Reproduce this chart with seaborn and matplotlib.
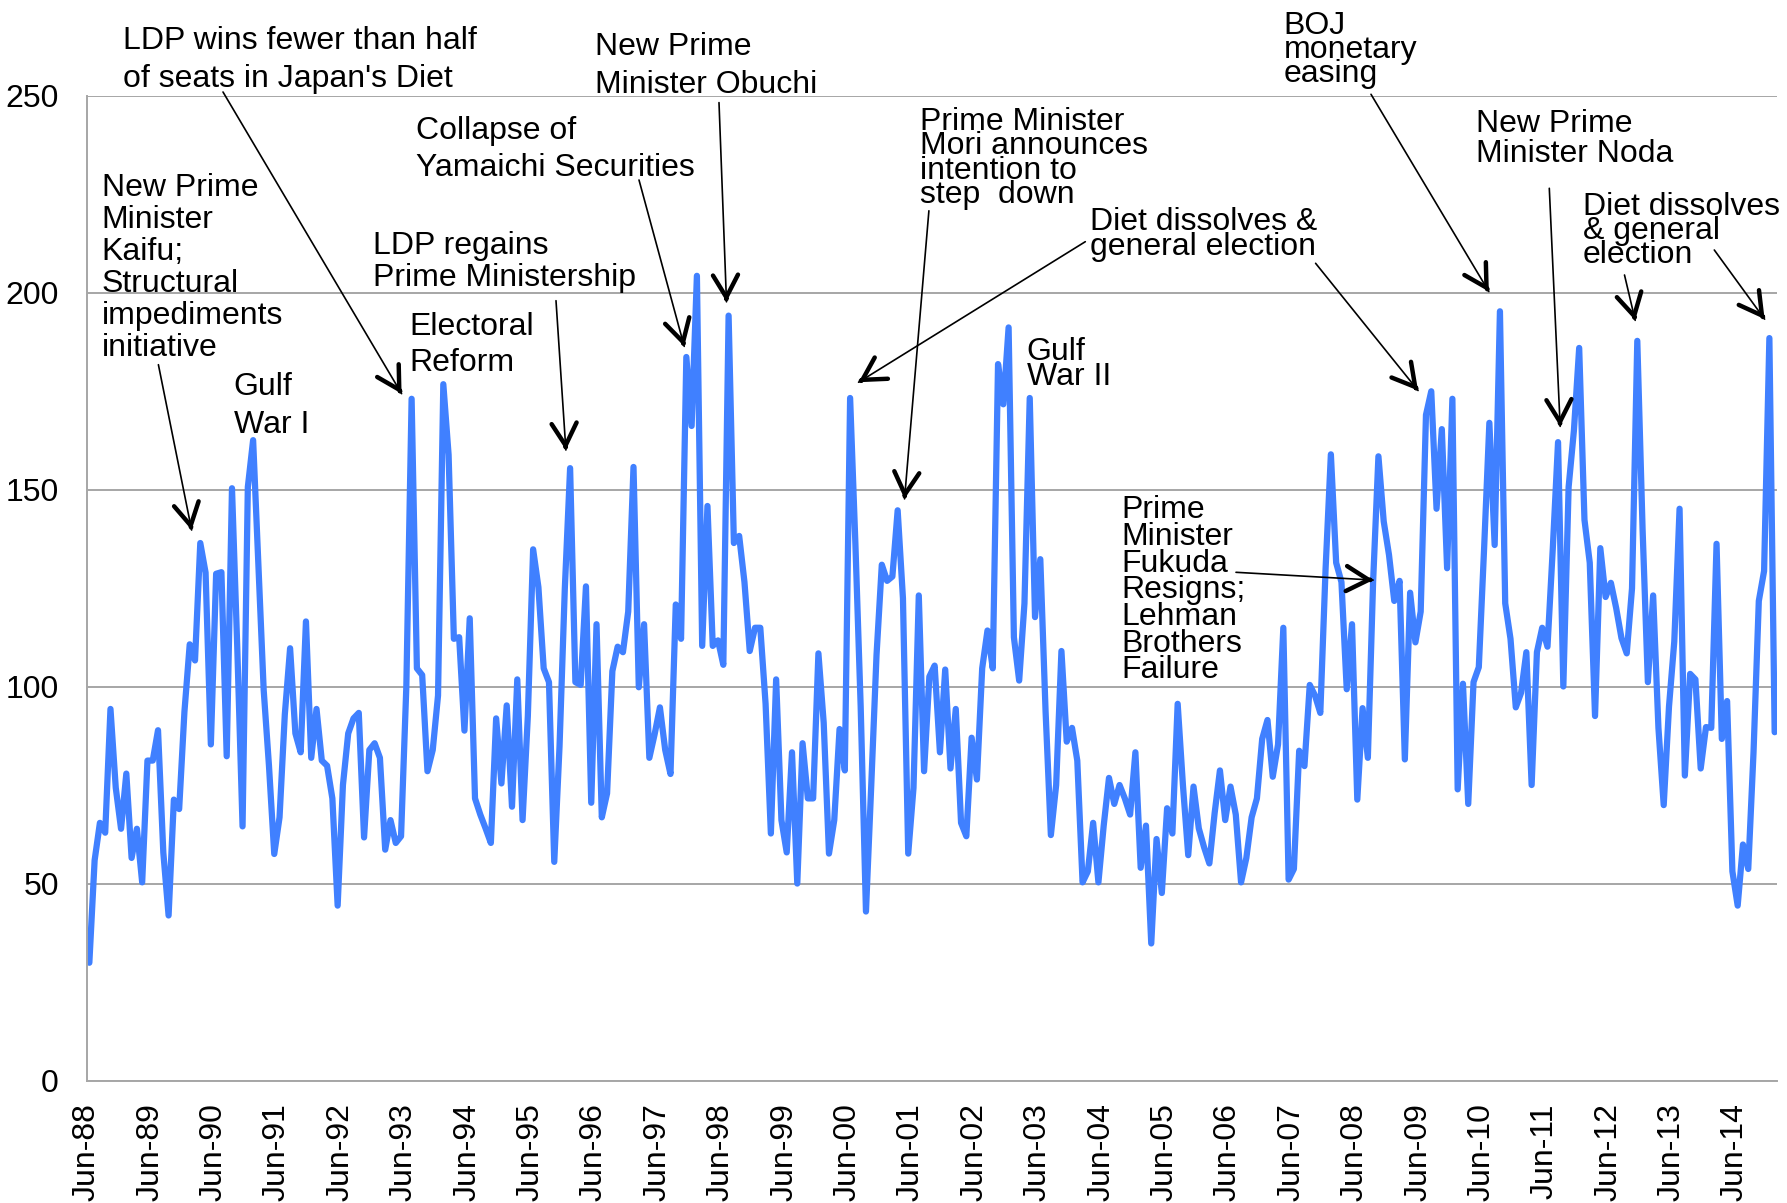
import numpy as np
import pandas as pd
import seaborn as sns
import matplotlib.pyplot as plt

# monthly index values, Jun-88 onwards
vals_jun88_may93 = [30, 56, 65.5, 63, 94.4, 74.4, 64, 78, 56.6, 64, 50.4, 81.3,
                    81.3, 89, 58, 42, 71.4, 69, 93.7, 110.8, 106.7, 136.5, 129, 85.4,
                    128.7, 129.1, 82.4, 150.4, 110, 64.6, 150.7, 162.6, 130.8, 99.2, 80, 57.6,
                    66.9, 93, 109.8, 88.2, 83.4, 116.6, 82, 94.4, 81.3, 80, 71.7, 44.5,
                    75.1, 88.2, 92, 93.4, 61.8, 84, 85.7, 82, 58.7, 66.2, 60.4, 62.1]
vals_jun93_may98 = [100, 173.1, 104.7, 103, 78.6, 84, 97.8, 176.8, 158.9, 112.2, 112.6, 88.9,
                    117.4, 71.7, 67.6, 64.1, 60.4, 92, 75.5, 95.3, 69.6, 101.9, 66.2, 92.6,
                    134.9, 125.3, 104.7, 101.2, 55.6, 85, 125, 155.5, 101.2, 100.5, 125.5, 70.6,
                    115.9, 66.9, 73, 104, 110.2, 108.8, 119.1, 155.8, 99.9, 115.9, 82, 88,
                    94.8, 84, 77.9, 120.9, 112.2, 183.7, 166.2, 204.3, 110.4, 145.9, 110.4, 111.8]
vals_jun98_may03 = [105.6, 194.2, 136.5, 138.3, 126.6, 109.1, 115, 115, 95.7, 62.8, 101.9, 66.2,
                    58, 83.4, 50.1, 85.7, 71.7, 71.7, 108.5, 90.9, 57.7, 66.2, 89.3, 78.8,
                    173.3, 136.3, 95, 43, 75, 108.1, 131, 126.9, 128, 144.8, 122.5, 57.7,
                    74.4, 123.2, 78.6, 102.6, 105.4, 83.4, 104.4, 79.3, 94.4, 65.5, 62.1, 87.1,
                    76.5, 104.7, 114.3, 104.7, 181.9, 171.7, 191.2, 112.6, 101.6, 121.2, 173.3, 117.7]
vals_jun03_may08 = [132.4, 93.7, 62.4, 75.1, 109.1, 86.1, 89.6, 81.3, 50.4, 53.2, 65.5, 50.4,
                    64.8, 76.9, 70.3, 75.1, 71.7, 67.6, 83.4, 54.1, 64.8, 34.9, 61.4, 47.7,
                    69.2, 62.8, 95.7, 75, 57.3, 74.7, 64.1, 59.3, 55.2, 68, 78.8, 66.2,
                    74.7, 67.6, 50.4, 56.6, 66.9, 71.7, 86.8, 91.6, 77.2, 85.4, 115, 51.1,
                    53.8, 83.8, 79.9, 100.5, 97.8, 93.4, 130, 159, 131.5, 126.6, 99.4, 115.9]
vals_jun08_jan15 = [71.4, 94.6, 82, 126.9, 158.5, 142, 133.5, 121.8, 126.9, 81.6, 123.9, 111.3,
                    119.1, 169, 175, 145.2, 165.4, 130.1, 173.1, 74, 100.8, 70.3, 101.2, 105,
                    135, 167, 136, 195.3, 121.2, 112.2, 94.8, 98.5, 108.8, 75.1, 108.8, 115,
                    110.2, 135, 162.1, 100.1, 150.7, 165, 186, 142.4, 131.5, 92.6, 135.2, 122.8,
                    126.4, 120, 112.4, 108.5, 125, 187.8, 140, 101.2, 123.2, 89.6, 70, 95,
                    111.5, 145.2, 77.5, 103.3, 101.9, 79.3, 89.8, 89.6, 136.3, 86.8, 96.4, 53.2,
                    44.5, 60, 53.8, 83.4, 121.8, 129.4, 188.5, 88.5]

tick_labels = ['Jun-88', 'Jun-89', 'Jun-90', 'Jun-91', 'Jun-92', 'Jun-93', 'Jun-94',
               'Jun-95', 'Jun-96', 'Jun-97', 'Jun-98', 'Jun-99', 'Jun-00', 'Jun-01',
               'Jun-02', 'Jun-03', 'Jun-04', 'Jun-05', 'Jun-06', 'Jun-07', 'Jun-08',
               'Jun-09', 'Jun-10', 'Jun-11', 'Jun-12', 'Jun-13', 'Jun-14']
y_ticks = [0, 50, 100, 150, 200, 250]

values = np.concatenate([vals_jun88_may93, vals_jun93_may98, vals_jun98_may03,
                         vals_jun03_may08, vals_jun08_jan15])
df = pd.DataFrame({'month': np.arange(len(values)) + 0.5, 'value': values})

W, H = 1787, 1203
GRAY = '#A6A6A6'
FS = 23

sns.set_style('white')
plt.rcParams['font.family'] = ['Liberation Sans', 'DejaVu Sans']

fig = plt.figure(figsize=(W / 100, H / 100), dpi=100)
ax = fig.add_axes([86.7 / W, 122 / H, 1690.6 / W, 985.3 / H])
sns.lineplot(data=df, x='month', y='value', ax=ax, color='#4080FF', lw=4.5,
             estimator=None, solid_joinstyle='round', solid_capstyle='round')

ax.set_xlim(0, 320)
ax.set_ylim(0, 250)
ax.set_yticks(y_ticks)
ax.set_xticks(np.arange(len(tick_labels)) * 12)
ax.set_xticklabels(tick_labels, rotation=90)
ax.yaxis.grid(True, color=GRAY, lw=1.4)
ax.set_axisbelow(True)
ax.set_xlabel('')
ax.set_ylabel('')
for s in ['top', 'right']:
    ax.spines[s].set_visible(False)
for s in ['left', 'bottom']:
    ax.spines[s].set_color(GRAY)
    ax.spines[s].set_linewidth(1.4)
ax.tick_params(axis='both', labelsize=FS, length=7, width=1.4, color=GRAY,
               direction='out', labelcolor='black')
ax.tick_params(axis='y', pad=13)
ax.tick_params(axis='x', pad=9)


def put_text(lines, left, center0, pitch):
    for k, line in enumerate(lines):
        base = center0 + k * pitch + 0.358 * FS * 100 / 72
        fig.text(left / W, 1 - base / H, line, fontsize=FS, va='baseline', ha='left',
                 color='black')


def put_arrow(tail, tip):
    tail_px = np.array([tail[0], H - tail[1]])
    ax.annotate('', xy=tip, xycoords='data', xytext=tail_px, textcoords='figure pixels',
                arrowprops=dict(arrowstyle='-', color='black', lw=1.2, shrinkA=0, shrinkB=0))
    tip_px = ax.transData.transform(tip)
    d = tip_px - tail_px
    d = d / np.hypot(*d)
    ax.annotate('', xy=tip, xycoords='data', xytext=tip_px - 3 * d, textcoords='figure pixels',
                arrowprops=dict(arrowstyle='->,head_length=0.8,head_width=0.45', color='black',
                                lw=3.2, mutation_scale=20, shrinkA=0, shrinkB=0))


put_text(['New Prime', 'Minister', 'Kaifu;', 'Structural', 'impediments', 'initiative'],
         101.5, 184.8, 32)
put_arrow((158.4, 364.7), (19.86, 139.8))
put_text(['Gulf', 'War I'], 233.6, 384, 37.7)
put_text(["LDP wins fewer than half", "of seats in Japan's Diet"], 123, 38, 38)
put_arrow((223, 92), (59.6, 174.4))
put_text(['LDP regains', 'Prime Ministership'], 372.6, 242.5, 31.7)
put_arrow((556, 300.7), (90.7, 160.1))
put_text(['Electoral', 'Reform'], 409.6, 323.3, 36.7)
put_text(['Collapse of', 'Yamaichi Securities'], 416.5, 127.5, 37.5)
put_arrow((639, 180), (113.1, 186.4))
put_text(['New Prime', 'Minister Obuchi'], 595.4, 43.3, 38)
put_arrow((719, 102.6), (121.1, 197.7))
put_text(['Prime Minister', 'Mori announces', 'intention to', 'step  down'], 919.7, 118.5, 24.3)
put_arrow((928.9, 210.8), (154.8, 147.7))
put_text(['Diet dissolves &', 'general election'], 1090, 219, 24.7)
put_arrow((1085.3, 241.7), (146.1, 177.3))
put_arrow((1315.6, 263.3), (252.0, 175.2))
put_text(['Gulf', 'War II'], 1026.7, 348.5, 25)
put_text(['Prime', 'Minister', 'Fukuda', 'Resigns;', 'Lehman', 'Brothers', 'Failure'],
         1121.7, 506.8, 26.7)
put_arrow((1236, 572.3), (243.5, 127.1))
put_text(['BOJ', 'monetary', 'easing'], 1283.7, 22.5, 24)
put_arrow((1371, 94.3), (265.4, 200.3))
put_text(['New Prime', 'Minister Noda'], 1476.4, 120.8, 29.5)
put_arrow((1549.3, 188.3), (278.9, 166.1))
put_text(['Diet dissolves', '& general', 'election'], 1582.7, 203.3, 24)
put_arrow((1624.5, 275), (293.1, 193.0))
put_arrow((1714.3, 250), (317.6, 193.3))

fig.savefig('out.png', dpi=100)
